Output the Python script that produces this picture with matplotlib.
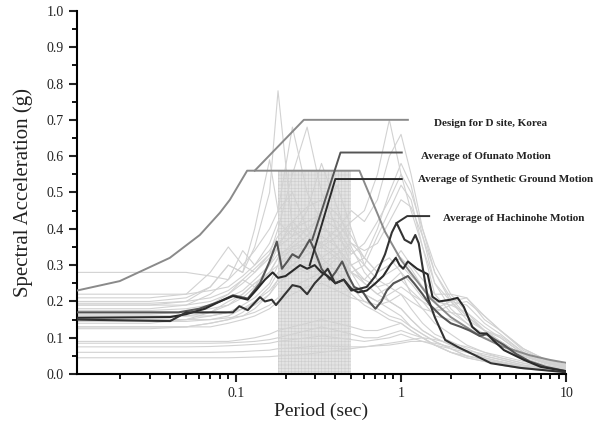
import matplotlib
matplotlib.use("Agg")
import matplotlib.pyplot as plt
from matplotlib.ticker import FixedLocator, NullFormatter

plt.rcParams['font.family'] = ['Liberation Serif', 'DejaVu Serif']
plt.rcParams['hatch.linewidth'] = 0.4

# periods shared by the individual records (sec)
rec_T = [0.0109, 0.03, 0.05, 0.07, 0.09, 0.11, 0.13, 0.16, 0.18, 0.22, 0.27, 0.33, 0.41, 0.5,
         0.6, 0.72, 0.85, 1.0, 1.15, 1.35, 1.6, 2.0, 2.5, 3.2, 4.0, 5.5, 7.5, 10]

# individual ground motion spectra (g)
records = [
    [0.20, 0.20, 0.21, 0.24, 0.30, 0.28, 0.35, 0.50, 0.78, 0.40, 0.36, 0.30, 0.26, 0.22, 0.19, 0.17, 0.15, 0.14, 0.12, 0.10, 0.08, 0.06, 0.045, 0.035, 0.025, 0.015, 0.01, 0.006],
    [0.28, 0.28, 0.28, 0.27, 0.26, 0.30, 0.34, 0.40, 0.45, 0.68, 0.50, 0.42, 0.35, 0.28, 0.22, 0.20, 0.18, 0.16, 0.13, 0.11, 0.09, 0.07, 0.05, 0.04, 0.03, 0.02, 0.012, 0.008],
    [0.21, 0.21, 0.22, 0.28, 0.35, 0.30, 0.28, 0.33, 0.40, 0.55, 0.68, 0.50, 0.40, 0.30, 0.25, 0.22, 0.20, 0.18, 0.15, 0.12, 0.10, 0.08, 0.06, 0.045, 0.035, 0.022, 0.014, 0.009],
    [0.18, 0.18, 0.19, 0.22, 0.26, 0.34, 0.30, 0.36, 0.42, 0.38, 0.45, 0.58, 0.46, 0.35, 0.28, 0.24, 0.20, 0.18, 0.15, 0.12, 0.10, 0.08, 0.06, 0.045, 0.033, 0.02, 0.013, 0.008],
    [0.19, 0.19, 0.20, 0.24, 0.30, 0.28, 0.40, 0.59, 0.45, 0.50, 0.40, 0.32, 0.28, 0.24, 0.20, 0.18, 0.16, 0.15, 0.13, 0.11, 0.09, 0.07, 0.05, 0.04, 0.03, 0.018, 0.012, 0.007],
    [0.165, 0.165, 0.17, 0.19, 0.22, 0.26, 0.24, 0.30, 0.35, 0.42, 0.38, 0.45, 0.52, 0.40, 0.30, 0.26, 0.24, 0.22, 0.18, 0.14, 0.11, 0.09, 0.07, 0.05, 0.04, 0.025, 0.016, 0.01],
    [0.14, 0.14, 0.15, 0.17, 0.20, 0.22, 0.25, 0.28, 0.32, 0.36, 0.40, 0.35, 0.32, 0.28, 0.26, 0.30, 0.32, 0.28, 0.22, 0.18, 0.14, 0.11, 0.08, 0.06, 0.045, 0.03, 0.018, 0.011],
    [0.16, 0.16, 0.16, 0.16, 0.17, 0.18, 0.19, 0.22, 0.26, 0.30, 0.33, 0.35, 0.38, 0.42, 0.45, 0.55, 0.70, 0.55, 0.45, 0.35, 0.25, 0.20, 0.15, 0.12, 0.09, 0.05, 0.03, 0.02],
    [0.15, 0.15, 0.15, 0.16, 0.17, 0.19, 0.21, 0.25, 0.30, 0.35, 0.38, 0.36, 0.40, 0.45, 0.42, 0.48, 0.60, 0.66, 0.55, 0.40, 0.28, 0.20, 0.16, 0.12, 0.09, 0.05, 0.03, 0.02],
    [0.13, 0.13, 0.13, 0.14, 0.15, 0.17, 0.20, 0.24, 0.28, 0.30, 0.28, 0.32, 0.35, 0.30, 0.32, 0.40, 0.50, 0.58, 0.52, 0.38, 0.25, 0.18, 0.14, 0.11, 0.08, 0.045, 0.025, 0.015],
    [0.125, 0.125, 0.13, 0.14, 0.15, 0.16, 0.18, 0.22, 0.25, 0.28, 0.30, 0.28, 0.32, 0.28, 0.30, 0.38, 0.45, 0.52, 0.48, 0.35, 0.22, 0.17, 0.14, 0.10, 0.08, 0.04, 0.025, 0.015],
    [0.17, 0.17, 0.17, 0.18, 0.19, 0.21, 0.24, 0.28, 0.32, 0.34, 0.36, 0.40, 0.38, 0.33, 0.36, 0.42, 0.48, 0.55, 0.50, 0.40, 0.30, 0.22, 0.17, 0.13, 0.10, 0.055, 0.032, 0.02],
    [0.145, 0.145, 0.145, 0.15, 0.16, 0.18, 0.20, 0.23, 0.26, 0.32, 0.34, 0.30, 0.33, 0.36, 0.34, 0.36, 0.42, 0.48, 0.46, 0.38, 0.28, 0.21, 0.16, 0.12, 0.09, 0.05, 0.03, 0.018],
    [0.22, 0.22, 0.22, 0.23, 0.24, 0.27, 0.30, 0.34, 0.38, 0.42, 0.46, 0.48, 0.44, 0.38, 0.32, 0.28, 0.30, 0.34, 0.30, 0.26, 0.22, 0.22, 0.21, 0.15, 0.12, 0.07, 0.04, 0.025],
    [0.19, 0.19, 0.19, 0.20, 0.22, 0.25, 0.28, 0.32, 0.35, 0.38, 0.40, 0.43, 0.40, 0.34, 0.30, 0.26, 0.28, 0.30, 0.27, 0.24, 0.20, 0.20, 0.19, 0.14, 0.11, 0.06, 0.035, 0.022],
    [0.175, 0.175, 0.18, 0.19, 0.21, 0.23, 0.26, 0.30, 0.33, 0.35, 0.36, 0.38, 0.35, 0.30, 0.26, 0.24, 0.25, 0.28, 0.25, 0.21, 0.18, 0.17, 0.16, 0.12, 0.10, 0.055, 0.03, 0.02],
    [0.16, 0.16, 0.16, 0.17, 0.19, 0.22, 0.25, 0.28, 0.30, 0.33, 0.35, 0.36, 0.33, 0.28, 0.25, 0.22, 0.24, 0.26, 0.23, 0.20, 0.16, 0.15, 0.13, 0.10, 0.09, 0.05, 0.03, 0.018],
    [0.195, 0.195, 0.20, 0.21, 0.23, 0.26, 0.29, 0.33, 0.36, 0.40, 0.42, 0.44, 0.42, 0.36, 0.32, 0.28, 0.30, 0.32, 0.29, 0.24, 0.20, 0.19, 0.17, 0.12, 0.105, 0.06, 0.034, 0.021],
    [0.09, 0.09, 0.09, 0.09, 0.09, 0.095, 0.10, 0.11, 0.12, 0.13, 0.14, 0.15, 0.14, 0.13, 0.12, 0.12, 0.13, 0.14, 0.12, 0.10, 0.08, 0.06, 0.045, 0.035, 0.025, 0.015, 0.01, 0.006],
    [0.085, 0.085, 0.085, 0.085, 0.086, 0.088, 0.09, 0.095, 0.10, 0.11, 0.12, 0.13, 0.12, 0.11, 0.10, 0.10, 0.11, 0.12, 0.11, 0.10, 0.08, 0.06, 0.05, 0.04, 0.03, 0.02, 0.012, 0.008],
    [0.075, 0.075, 0.075, 0.076, 0.078, 0.08, 0.082, 0.085, 0.09, 0.095, 0.10, 0.105, 0.10, 0.095, 0.09, 0.095, 0.10, 0.11, 0.10, 0.09, 0.08, 0.07, 0.06, 0.05, 0.04, 0.025, 0.015, 0.01],
    [0.06, 0.06, 0.06, 0.06, 0.061, 0.062, 0.064, 0.066, 0.07, 0.072, 0.075, 0.078, 0.076, 0.075, 0.075, 0.078, 0.08, 0.085, 0.09, 0.09, 0.085, 0.075, 0.065, 0.055, 0.045, 0.03, 0.02, 0.012],
    [0.045, 0.045, 0.045, 0.045, 0.045, 0.046, 0.047, 0.048, 0.05, 0.052, 0.055, 0.06, 0.065, 0.07, 0.075, 0.08, 0.085, 0.09, 0.095, 0.10, 0.095, 0.085, 0.075, 0.06, 0.05, 0.035, 0.022, 0.014],
    [0.15, 0.15, 0.15, 0.15, 0.155, 0.16, 0.17, 0.19, 0.21, 0.24, 0.26, 0.28, 0.26, 0.24, 0.22, 0.20, 0.22, 0.24, 0.22, 0.20, 0.18, 0.20, 0.21, 0.16, 0.12, 0.07, 0.04, 0.025],
    [0.13, 0.13, 0.13, 0.13, 0.14, 0.15, 0.16, 0.18, 0.20, 0.22, 0.24, 0.25, 0.23, 0.21, 0.20, 0.19, 0.20, 0.22, 0.20, 0.18, 0.17, 0.19, 0.20, 0.16, 0.12, 0.065, 0.038, 0.024],
]

# design spectrum, D site Korea
design_T = [0.0109, 0.0198, 0.0398, 0.0605, 0.08, 0.092, 0.117, 0.56, 0.8, 1.0, 1.5, 2.0, 3.0, 4.0, 6.0, 8.0, 10.0]
design_v = [0.23, 0.256, 0.32, 0.383, 0.444, 0.48, 0.56, 0.56, 0.392, 0.314, 0.209, 0.157, 0.105, 0.078, 0.052, 0.039, 0.031]

# averages
ofu_T = [0.0109, 0.045, 0.06, 0.08, 0.096, 0.118, 0.14, 0.16, 0.177, 0.19, 0.205, 0.22, 0.24, 0.26, 0.28,
         0.30, 0.33, 0.37, 0.40, 0.44, 0.48, 0.52, 0.58, 0.64, 0.70, 0.76, 0.82, 0.9, 1.0, 1.1,
         1.2, 1.35, 1.5, 1.75, 2.0, 2.3, 2.6, 3.0, 3.3, 3.7, 4.2, 5.0, 6.0, 7.5, 10]
ofu_v = [0.17, 0.17, 0.18, 0.20, 0.217, 0.208, 0.25, 0.31, 0.365, 0.29, 0.31, 0.33, 0.32, 0.345, 0.37,
         0.34, 0.29, 0.26, 0.28, 0.31, 0.27, 0.24, 0.23, 0.20, 0.18, 0.20, 0.23, 0.25, 0.26, 0.27,
         0.25, 0.22, 0.19, 0.16, 0.14, 0.13, 0.12, 0.105, 0.11, 0.095, 0.08, 0.055, 0.035, 0.02, 0.008]

syn_T = [0.0109, 0.04, 0.05, 0.065, 0.08, 0.096, 0.118, 0.135, 0.150, 0.167, 0.18, 0.20, 0.245, 0.27, 0.30,
         0.33, 0.36, 0.40, 0.45, 0.50, 0.55, 0.62, 0.70, 0.78, 0.86, 0.93, 0.98, 1.03, 1.1, 1.25,
         1.45, 1.55, 1.7, 2.0, 2.2, 2.4, 2.7, 3.0, 3.3, 3.6, 4.2, 5.5, 7.0, 10]
syn_v = [0.155, 0.157, 0.165, 0.18, 0.20, 0.215, 0.205, 0.235, 0.26, 0.28, 0.265, 0.27, 0.30, 0.29, 0.30,
         0.28, 0.27, 0.25, 0.26, 0.235, 0.225, 0.23, 0.25, 0.27, 0.30, 0.32, 0.30, 0.29, 0.31, 0.29,
         0.275, 0.213, 0.20, 0.205, 0.21, 0.185, 0.13, 0.112, 0.112, 0.094, 0.066, 0.04, 0.02, 0.008]

hac_T = [0.0109, 0.04, 0.05, 0.096, 0.105, 0.118, 0.14, 0.15, 0.165, 0.175, 0.22, 0.245, 0.27, 0.30, 0.33,
         0.36, 0.40, 0.45, 0.50, 0.56, 0.62, 0.70, 0.80, 0.88, 0.94, 1.05, 1.15, 1.22, 1.28, 1.35,
         1.45, 1.6, 1.85, 2.2, 2.8, 3.5, 5.3, 10]
hac_v = [0.15, 0.146, 0.17, 0.17, 0.187, 0.176, 0.212, 0.20, 0.205, 0.19, 0.245, 0.24, 0.22, 0.25, 0.27,
         0.29, 0.25, 0.26, 0.23, 0.235, 0.24, 0.27, 0.33, 0.39, 0.416, 0.37, 0.36, 0.383, 0.36, 0.295,
         0.212, 0.157, 0.094, 0.075, 0.052, 0.03, 0.017, 0.005]

# period band of interest
band = (0.18, 0.50, 0.56)

fig = plt.figure(figsize=(5.96, 4.34), dpi=100)
ax = fig.add_axes([0.129, 0.138, 0.821, 0.837])

ax.fill_between([band[0], band[1]], 0, band[2], facecolor='#e3e3e3', edgecolor='#cdcdcd',
                hatch='+++++', linewidth=0, zorder=1)

for r in records:
    ax.plot(rec_T, r, color='#d2d2d2', lw=0.8, zorder=2)

ax.plot(design_T, design_v, color='#8a8a8a', lw=1.4, zorder=4)
ax.plot(ofu_T, ofu_v, color='#555555', lw=1.5, zorder=5)
ax.plot(syn_T, syn_v, color='#2a2a2a', lw=1.5, zorder=5)
ax.plot(hac_T, hac_v, color='#333333', lw=1.5, zorder=5)

# leader lines and labels
leaders = [
    ([0.13, 0.258, 1.1], [0.56, 0.70, 0.70], '#8a8a8a', 1.58, 0.689, 'Design for D site, Korea'),
    ([0.29, 0.43, 1.01], [0.37, 0.61, 0.61], '#555555', 1.32, 0.600, 'Average of Ofunato Motion'),
    ([0.28, 0.40, 1.01], [0.30, 0.537, 0.537], '#2a2a2a', 1.27, 0.537, 'Average of Synthetic Ground Motion'),
    ([0.94, 1.09, 1.48], [0.416, 0.435, 0.435], '#333333', 1.79, 0.428, 'Average of Hachinohe Motion'),
]
for lx, ly, c, tx, ty, label in leaders:
    ax.plot(lx, ly, color=c, lw=1.4, zorder=6)
    ax.text(tx, ty, label, fontsize=8, fontweight='bold', va='center', ha='left',
            color='#222222', zorder=7, clip_on=False)

ax.set_xscale('log')
ax.set_xlim(0.0109, 10)
ax.set_ylim(0, 1.0)

ax.xaxis.set_major_locator(FixedLocator([0.1, 1, 10]))
ax.set_xticklabels(['0.1', '1', '10'])
minors = [m * d for d in (0.01, 0.1, 1) for m in range(2, 10)]
ax.xaxis.set_minor_locator(FixedLocator(minors))
ax.xaxis.set_minor_formatter(NullFormatter())
ax.set_yticks([i / 10 for i in range(11)])
ax.set_yticklabels([f'{i / 10:.1f}' for i in range(11)])
ax.set_yticks([i / 10 + 0.05 for i in range(10)], minor=True)

for s in ('top', 'right'):
    ax.spines[s].set_visible(False)
for s in ('left', 'bottom'):
    ax.spines[s].set_linewidth(1.5)
ax.tick_params(which='major', direction='out', length=6, width=1.5, labelsize=10, colors='#222222')
ax.tick_params(which='minor', direction='out', length=3.5, width=1.3)

ax.set_xlabel('Period (sec)', fontsize=14, labelpad=2, color='#222222')
ax.set_ylabel('Spectral Acceleration (g)', fontsize=15, labelpad=10, color='#222222')

fig.savefig('out.png', dpi=100)
